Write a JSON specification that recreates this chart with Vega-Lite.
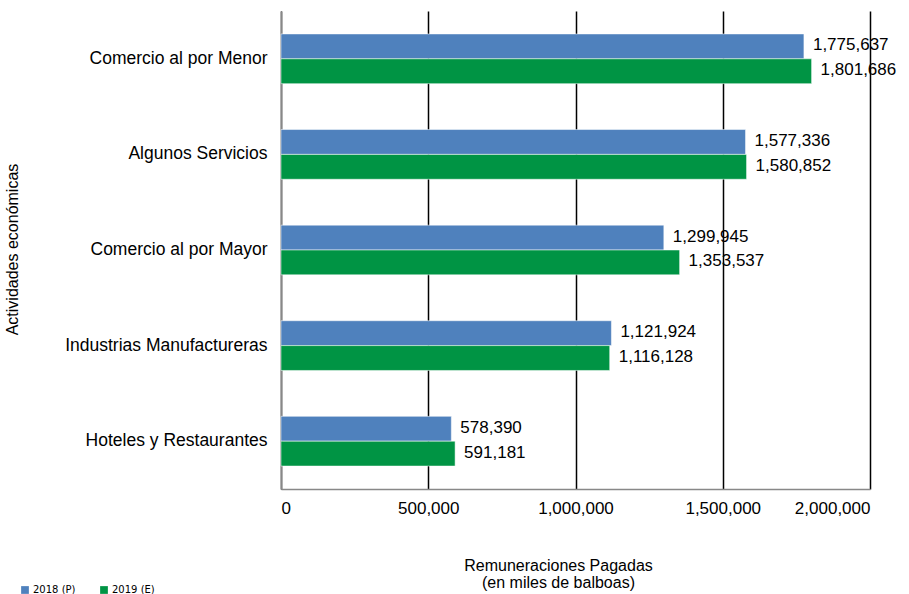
{
  "$schema": "https://vega.github.io/schema/vega-lite/v6.json",
  "width": 589,
  "height": 478,
  "autosize": {"type": "none"},
  "padding": {"left": 281, "top": 11, "right": 39, "bottom": 105},
  "background": "white",
  "config": {
    "font": "Liberation Sans",
    "view": {"stroke": null}
  },
  "data": {
    "values": [
      {"actividad": "Comercio al por Menor", "serie": "2018 (P)", "valor": 1775637},
      {"actividad": "Comercio al por Menor", "serie": "2019 (E)", "valor": 1801686},
      {"actividad": "Algunos Servicios", "serie": "2018 (P)", "valor": 1577336},
      {"actividad": "Algunos Servicios", "serie": "2019 (E)", "valor": 1580852},
      {"actividad": "Comercio al por Mayor", "serie": "2018 (P)", "valor": 1299945},
      {"actividad": "Comercio al por Mayor", "serie": "2019 (E)", "valor": 1353537},
      {"actividad": "Industrias Manufactureras", "serie": "2018 (P)", "valor": 1121924},
      {"actividad": "Industrias Manufactureras", "serie": "2019 (E)", "valor": 1116128},
      {"actividad": "Hoteles y Restaurantes", "serie": "2018 (P)", "valor": 578390},
      {"actividad": "Hoteles y Restaurantes", "serie": "2019 (E)", "valor": 591181}
    ]
  },
  "encoding": {
    "y": {
      "field": "actividad",
      "type": "nominal",
      "sort": null,
      "scale": {"paddingInner": 0.48, "paddingOuter": 0.24},
      "axis": {
        "title": "Actividades económicas",
        "titleFontSize": 16,
        "titleFontWeight": "normal",
        "titleColor": "#000000",
        "titleX": -269,
        "titleY": 238,
        "titleAngle": -90,
        "titleAlign": "center",
        "titleBaseline": "middle",
        "labelFontSize": 17.5,
        "labelLimit": 0,
        "labelColor": "#000000",
        "labelPadding": 14,
        "ticks": false,
        "domain": true,
        "domainColor": "#888888",
        "domainWidth": 1.5,
        "grid": false
      }
    },
    "yOffset": {"field": "serie", "type": "nominal", "sort": ["2018 (P)", "2019 (E)"]},
    "x": {
      "field": "valor",
      "type": "quantitative",
      "scale": {"domain": [0, 2000000], "nice": false},
      "axis": {
        "values": [0, 500000, 1000000, 1500000, 2000000],
        "format": ",d",
        "title": ["Remuneraciones Pagadas", "(en miles de balboas)"],
        "titleFontSize": 16,
        "titleFontWeight": "normal",
        "titleColor": "#000000",
        "titleX": 277,
        "titleY": 81,
        "titleAlign": "center",
        "titleBaseline": "alphabetic",
        "titleLineHeight": 17,
        "labelFontSize": 17,
        "labelColor": "#000000",
        "labelPadding": 11,
        "ticks": false,
        "domainColor": "#888888",
        "domainWidth": 1.5,
        "grid": true,
        "gridColor": "#000000",
        "gridWidth": 1.5
      }
    }
  },
  "layer": [
    {
      "mark": {"type": "bar", "stroke": "#ffffff", "strokeOpacity": 0.5, "strokeWidth": 1},
      "encoding": {
        "color": {
          "field": "serie",
          "type": "nominal",
          "scale": {"domain": ["2018 (P)", "2019 (E)"], "range": ["#4F81BD", "#009444"]},
          "legend": {
            "title": null,
            "orient": "none",
            "direction": "horizontal",
            "legendX": -261,
            "legendY": 574,
            "symbolType": "square",
            "symbolSize": 60,
            "symbolStrokeWidth": 0,
            "labelFont": "DejaVu Sans",
            "labelFontSize": 10,
            "labelColor": "#000000",
            "columnPadding": 23,
            "labelOffset": 3
          }
        }
      }
    },
    {
      "mark": {"type": "text", "align": "left", "baseline": "middle", "dx": 9, "dy": -1, "fontSize": 17, "color": "#000000"},
      "encoding": {
        "text": {"field": "valor", "type": "quantitative", "format": ",d"}
      }
    }
  ]
}
